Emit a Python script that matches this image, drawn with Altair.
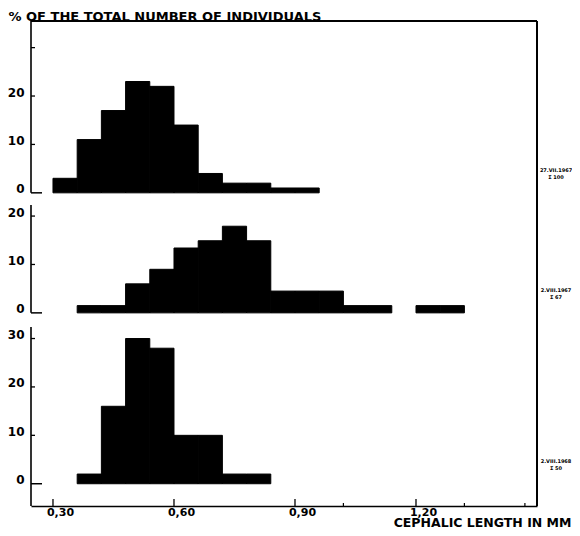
import altair as alt
import pandas as pd

# ---------------- data ----------------
BIN_WIDTH = 0.06
# 27.VII.1967  (N = 100)
bins_a = [0.30, 0.36, 0.42, 0.48, 0.54, 0.60, 0.66, 0.72, 0.78, 0.84, 0.90]
pct_a = [3, 11, 17, 23, 22, 14, 4, 2, 2, 1, 1]
# 2.VIII.1967  (N = 67)
bins_b = [0.36, 0.42, 0.48, 0.54, 0.60, 0.66, 0.72, 0.78, 0.84, 0.90, 0.96,
          1.02, 1.08, 1.20, 1.26]
pct_b = [1.5, 1.5, 6.0, 9.0, 13.4, 14.9, 17.9, 14.9, 4.5, 4.5, 4.5,
         1.5, 1.5, 1.5, 1.5]
# 2.VIII.1968  (N = 50)
bins_c = [0.36, 0.42, 0.48, 0.54, 0.60, 0.66, 0.72, 0.78]
pct_c = [2, 16, 30, 28, 10, 10, 2, 2]

sample_dates = ["27.VII.1967", "2.VIII.1967", "2.VIII.1968"]
sample_sizes = ["Σ 100", "Σ 67", "Σ 50"]

y_tick_values = [[0, 10, 20, 30], [0, 10, 20], [0, 10, 20, 30]]
y_label_values = [[0, 10, 20], [0, 10, 20], [0, 10, 20, 30]]
x_tick_values = [0.30, 0.60, 0.90, 1.20]
x_minor_ticks = [1.02, 1.32, 1.47]

y_title = "% OF THE TOTAL NUMBER OF INDIVIDUALS"
x_title = "CEPHALIC LENGTH IN MM"

# ---------------- layout ----------------
W, H = 506, 485
PAD = {"left": 23, "top": 13, "right": 35, "bottom": 22}
X_MIN, X_MAX = 0.2455, 1.50
Y_MIN, Y_MAX = -4.6, 95.6
panel_base = [60.1, 35.3, 0.0]          # zero line of each panel on the shared y scale
axis_spans = [(60.1, 95.6), (35.3, 57.6), (-4.6, 32.4)]
label_offset = 4.7
FONT = "DejaVu Sans"

# ---------------- tables ----------------
rows = []
for bins, pcts, base in zip([bins_a, bins_b, bins_c], [pct_a, pct_b, pct_c], panel_base):
    for b, p in zip(bins, pcts):
        rows.append({"x": b, "x2": round(b + BIN_WIDTH, 4), "y": base, "y2": base + p})
bars_df = pd.DataFrame(rows)

spans_df = pd.DataFrame([{"y": a, "y2": b} for a, b in axis_spans])

tick_rows = []
for base, ticks in zip(panel_base, y_tick_values):
    for t in ticks:
        tick_rows.append({"y": base + t, "zero": t == 0})
ticks_df = pd.DataFrame(tick_rows)

label_vals = []
for base, labs in zip(panel_base, y_label_values):
    label_vals += [base + v for v in labs]

side_df = pd.DataFrame({
    "y": [b + label_offset for b in panel_base],
    "label": [d + "\n" + s for d, s in zip(sample_dates, sample_sizes)],
})

xt_df = pd.DataFrame({"x": x_tick_values})
xm_df = pd.DataFrame({"x": x_minor_ticks})

x_scale = alt.Scale(domain=[X_MIN, X_MAX], nice=False, zero=False)
y_scale = alt.Scale(domain=[Y_MIN, Y_MAX], nice=False, zero=False)

label_expr = (
    f"datum.value >= {panel_base[0] - 1} ? format(datum.value - {panel_base[0]}, '.0f') : "
    f"datum.value >= {panel_base[1] - 1} ? format(datum.value - {panel_base[1]}, '.0f') : "
    f"format(datum.value, '.0f')"
)

x_axis = alt.Axis(
    values=x_tick_values,
    labelExpr="replace(format(datum.value, '.2f'), '.', ',')",
    ticks=False, grid=False, domain=True, domainColor="black", domainWidth=1.6,
    labelFont=FONT, labelFontWeight="bold", labelFontSize=11, labelColor="black",
    labelPadding=0, labelOffset=7, labelFlush=False, labelBaseline="top",
    title=x_title, titleFont=FONT, titleFontWeight="bold", titleFontSize=12.5,
    titleColor="black", titleAlign="right", titleAnchor="end",
    titleX=W + PAD["right"] - 1, titleY=20, titleBaseline="alphabetic",
)
y_axis = alt.Axis(
    values=label_vals, labelExpr=label_expr,
    ticks=False, grid=False, domain=False,
    labelFont=FONT, labelFontWeight="bold", labelFontSize=12, labelColor="black",
    labelPadding=7, labelBaseline="alphabetic", labelAlign="right", labelFlush=False,
    title=y_title, titleFont=FONT, titleFontWeight="bold", titleFontSize=13,
    titleColor="black", titleAngle=0, titleAlign="left", titleBaseline="alphabetic",
    titleX=-23, titleY=-1,
)

bars = alt.Chart(bars_df).mark_bar(color="black", stroke="black", strokeWidth=1).encode(
    x=alt.X("x:Q", scale=x_scale, axis=x_axis, title=x_title),
    x2="x2:Q",
    y=alt.Y("y:Q", scale=y_scale, axis=y_axis, title=y_title),
    y2="y2:Q",
)

spans = alt.Chart(spans_df).mark_rule(color="black", strokeWidth=1.6).encode(
    x=alt.value(0),
    y=alt.Y("y:Q", scale=y_scale, title=y_title),
    y2="y2:Q",
)

zero_ticks = alt.Chart(ticks_df).transform_filter("datum.zero").mark_rule(
    color="black", strokeWidth=1.5).encode(
    x=alt.value(0), x2=alt.value(11),
    y=alt.Y("y:Q", scale=y_scale, title=y_title),
)
other_ticks = alt.Chart(ticks_df).transform_filter("!datum.zero").mark_rule(
    color="black", strokeWidth=1.3).encode(
    x=alt.value(0), x2=alt.value(4),
    y=alt.Y("y:Q", scale=y_scale, title=y_title),
)

x_major = alt.Chart(xt_df).mark_rule(color="black", strokeWidth=1.3).encode(
    x=alt.X("x:Q", scale=x_scale, title=x_title),
    y=alt.value(H), y2=alt.value(H - 7),
)
x_minor = alt.Chart(xm_df).mark_rule(color="black", strokeWidth=1.2).encode(
    x=alt.X("x:Q", scale=x_scale, title=x_title),
    y=alt.value(H), y2=alt.value(H - 3),
)

top_line = alt.Chart(xt_df).mark_rule(color="black", strokeWidth=1.5).encode(
    x=alt.value(0), x2=alt.value(W), y=alt.value(0),
)
right_line = alt.Chart(xt_df).mark_rule(color="black", strokeWidth=2).encode(
    x=alt.value(W), y=alt.value(0), y2=alt.value(H),
)

side = alt.Chart(side_df).mark_text(
    font=FONT, fontWeight="bold", fontSize=5, lineHeight=7, lineBreak="\n",
    align="center", baseline="middle", color="black",
).encode(
    x=alt.value(W + 19),
    y=alt.Y("y:Q", scale=y_scale, title=y_title),
    text="label:N",
)

chart = alt.layer(
    bars, spans, zero_ticks, other_ticks, x_major, x_minor, top_line, right_line, side
).properties(
    width=W, height=H,
    autosize=alt.AutoSizeParams(type="none"),
    padding=PAD,
    background="white",
).configure_view(stroke=None)

chart.save("out.html", embed_options={"renderer": "svg", "actions": False})
